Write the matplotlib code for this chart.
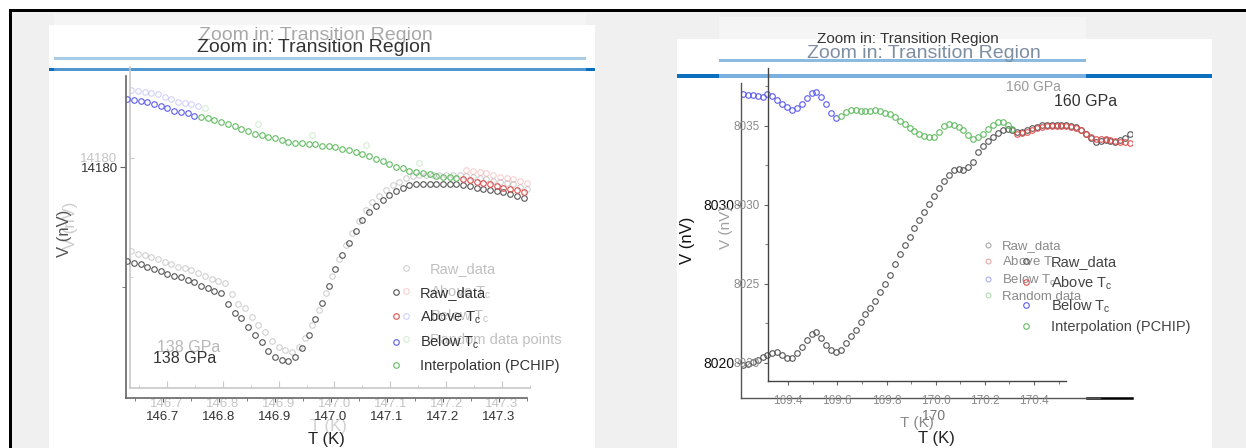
import numpy as np
import matplotlib
matplotlib.use("Agg")
import matplotlib.pyplot as plt
from matplotlib.patches import Rectangle
from matplotlib.lines import Line2D
from matplotlib.ticker import MultipleLocator, FixedLocator, FormatStrFormatter

plt.rcParams['font.family'] = ['Liberation Sans', 'DejaVu Sans']
plt.rcParams['mathtext.default'] = 'regular'

W, H = 1246, 448
NARROW = ['Liberation Sans Narrow', 'Liberation Sans', 'DejaVu Sans']

# --- 138 GPa panel (left) ---
t_138 = [146.636, 146.648, 146.660, 146.672, 146.684, 146.696, 146.708, 146.720, 146.732, 146.744,
         146.756, 146.768, 146.780, 146.792, 146.804, 146.816, 146.828, 146.840, 146.852, 146.864,
         146.876, 146.888, 146.900, 146.912, 146.924, 146.936, 146.948, 146.960, 146.972, 146.984,
         146.996, 147.008, 147.020, 147.032, 147.044, 147.056, 147.068, 147.080, 147.092, 147.104,
         147.116, 147.128, 147.140, 147.152, 147.164, 147.176, 147.188, 147.200, 147.212, 147.224,
         147.236, 147.248, 147.260, 147.272, 147.284, 147.296, 147.308, 147.320, 147.332, 147.344]
raw_138 = [14179.22, 14179.20, 14179.19, 14179.17, 14179.15, 14179.13, 14179.11, 14179.09, 14179.08, 14179.06,
           14179.04, 14179.01, 14178.99, 14178.97, 14178.95, 14178.86, 14178.78, 14178.74, 14178.67, 14178.60,
           14178.54, 14178.47, 14178.42, 14178.39, 14178.38, 14178.42, 14178.49, 14178.60, 14178.73, 14178.87,
           14179.01, 14179.15, 14179.27, 14179.37, 14179.47, 14179.56, 14179.63, 14179.68, 14179.73, 14179.77,
           14179.80, 14179.83, 14179.85, 14179.86, 14179.86, 14179.86, 14179.86, 14179.86, 14179.86, 14179.86,
           14179.85, 14179.84, 14179.83, 14179.82, 14179.81, 14179.80, 14179.79, 14179.78, 14179.76, 14179.74]
fit_138 = [14180.57, 14180.56, 14180.55, 14180.54, 14180.53, 14180.51, 14180.49, 14180.47, 14180.46, 14180.45,
           14180.43, 14180.42, 14180.41, 14180.39, 14180.38, 14180.36, 14180.34, 14180.32, 14180.30, 14180.28,
           14180.27, 14180.25, 14180.24, 14180.23, 14180.21, 14180.20, 14180.20, 14180.19, 14180.19, 14180.18,
           14180.18, 14180.17, 14180.15, 14180.14, 14180.13, 14180.11, 14180.09, 14180.07, 14180.05, 14180.03,
           14180.00, 14179.99, 14179.97, 14179.96, 14179.95, 14179.94, 14179.93, 14179.92, 14179.92, 14179.91,
           14179.90, 14179.89, 14179.88, 14179.87, 14179.86, 14179.84, 14179.83, 14179.82, 14179.81, 14179.79]
tc_138 = (146.76, 147.23)

# --- 160 GPa panel (right) ---
t_160 = [169.22, 169.24, 169.26, 169.28, 169.30, 169.32, 169.34, 169.36, 169.38, 169.40,
         169.42, 169.44, 169.46, 169.48, 169.50, 169.52, 169.54, 169.56, 169.58, 169.60,
         169.62, 169.64, 169.66, 169.68, 169.70, 169.72, 169.74, 169.76, 169.78, 169.80,
         169.82, 169.84, 169.86, 169.88, 169.90, 169.92, 169.94, 169.96, 169.98, 170.00,
         170.02, 170.04, 170.06, 170.08, 170.10, 170.12, 170.14, 170.16, 170.18, 170.20,
         170.22, 170.24, 170.26, 170.28, 170.30, 170.32, 170.34, 170.36, 170.38, 170.40,
         170.42, 170.44, 170.46, 170.48, 170.50, 170.52, 170.54, 170.56, 170.58, 170.60,
         170.62, 170.64, 170.66, 170.68, 170.70, 170.72, 170.74, 170.76, 170.78, 170.80]
raw_160 = [8019.89, 8019.96, 8020.04, 8020.18, 8020.35, 8020.50, 8020.64, 8020.70, 8020.48, 8020.34,
           8020.31, 8020.60, 8021.00, 8021.48, 8021.80, 8021.95, 8021.58, 8021.15, 8020.85, 8020.68,
           8020.85, 8021.27, 8021.70, 8022.09, 8022.60, 8023.08, 8023.47, 8023.95, 8024.49, 8024.99,
           8025.57, 8026.25, 8026.90, 8027.49, 8028.00, 8028.51, 8029.02, 8029.55, 8030.07, 8030.58,
           8031.06, 8031.51, 8031.90, 8032.19, 8032.30, 8032.22, 8032.40, 8032.75, 8033.33, 8033.72,
           8034.04, 8034.30, 8034.53, 8034.74, 8034.82, 8034.72, 8034.59, 8034.62, 8034.74, 8034.86,
           8034.95, 8035.04, 8035.06, 8035.06, 8035.06, 8035.05, 8035.03, 8035.00, 8034.91, 8034.76,
           8034.50, 8034.22, 8034.00, 8034.02, 8034.11, 8034.06, 8034.01, 8034.10, 8034.27, 8034.50]
fit_160 = [8037.00, 8036.98, 8036.95, 8036.88, 8036.84, 8037.03, 8036.90, 8036.67, 8036.40, 8036.19,
           8036.01, 8036.14, 8036.42, 8036.78, 8037.10, 8037.14, 8036.82, 8036.40, 8035.85, 8035.48,
           8035.62, 8035.88, 8036.02, 8036.00, 8035.96, 8035.95, 8035.97, 8035.98, 8035.93, 8035.82,
           8035.73, 8035.55, 8035.33, 8035.12, 8034.90, 8034.68, 8034.50, 8034.35, 8034.30, 8034.30,
           8034.62, 8035.02, 8035.15, 8035.08, 8034.96, 8034.74, 8034.45, 8034.18, 8034.30, 8034.52,
           8034.80, 8035.05, 8035.22, 8035.25, 8035.08, 8034.78, 8034.52, 8034.58, 8034.64, 8034.76,
           8034.87, 8034.95, 8034.98, 8035.00, 8035.00, 8035.00, 8034.99, 8034.96, 8034.90, 8034.72,
           8034.50, 8034.29, 8034.20, 8034.16, 8034.16, 8034.12, 8034.05, 8034.00, 8033.96, 8033.91]
tc_160 = (169.61, 170.33)

title = "Zoom in: Transition Region"
labels_new = ["Raw_data", "Above $T_c$", "Below $T_c$", "Interpolation (PCHIP)"]
labels_old_138 = ["Raw_data", "Above $T_c$", "Below $T_c$", "Random data points"]
labels_old_160 = ["Raw_data", "Above $T_c$", "Below $T_c$", "Random data"]

colors = {'raw': '#555555', 'above': '#e05050', 'below': '#5c5cee', 'mid': '#62bb62'}


def box(x0, y0, x1, y1):
    # pixel box, top-left origin -> figure fraction
    return [x0 / W, 1 - y1 / H, (x1 - x0) / W, (y1 - y0) / H]


def rect(fig, x0, y0, x1, y1, color, z=-10):
    fig.add_artist(Rectangle((x0 / W, 1 - y1 / H), (x1 - x0) / W, (y1 - y0) / H,
                             transform=fig.transFigure, color=color, lw=0, zorder=z))


def ftext(fig, x, y, s, **kw):
    fig.text(x / W, 1 - y / H, s, ha='center', va='center', **kw)


def style(ax, color, lw=1.0):
    ax.patch.set_visible(False)
    ax.spines['top'].set_visible(False)
    ax.spines['right'].set_visible(False)
    for s in ['left', 'bottom']:
        ax.spines[s].set_color(color)
        ax.spines[s].set_linewidth(lw)


def split(t, v, tc):
    t = np.array(t)
    v = np.array(v)
    below = t < tc[0]
    above = t >= tc[1]
    mid = ~below & ~above
    return (t[below], v[below]), (t[mid], v[mid]), (t[above], v[above])


def draw_points(ax, t, raw, fit, tc, alpha=1.0, sparse=1):
    kw = dict(ls='none', marker='o', mfc='none', ms=4, mew=0.8, alpha=alpha)
    (tb, vb), (tm, vm), (ta, va) = split(t, fit, tc)
    h_raw, = ax.plot(t, raw, mec=colors['raw'], **kw)
    h_above, = ax.plot(ta, va, mec=colors['above'], **kw)
    h_below, = ax.plot(tb, vb, mec=colors['below'], **kw)
    h_mid, = ax.plot(tm[::sparse], vm[::sparse], mec=colors['mid'], **kw)
    return [h_raw, h_above, h_below, h_mid]


def legend_at(fig, handles, labels, x, y, size, color, pad=1.27, spacing=0.45, family=None):
    prop = {'size': size}
    if family:
        prop['family'] = family
    fig.legend(handles, labels, loc='upper left', bbox_to_anchor=(x / W, 1 - y / H),
               frameon=False, borderpad=0, borderaxespad=0, handlelength=0.8,
               handletextpad=pad, labelspacing=spacing, prop=prop, labelcolor=color)


fig = plt.figure(figsize=(W / 100, H / 100), dpi=100)
fig.patch.set_facecolor('white')

# page background and cards
rect(fig, 12, 12, W, H, '#f0f0f0', -20)
rect(fig, 9, 9, W, 12, 'black', -5)
rect(fig, 9, 9, 12, H, 'black', -5)
rect(fig, 54, 14, 586, 25, '#f5f5f5', -15)
rect(fig, 49, 25, 595, H, 'white', -15)
rect(fig, 719, 17, 1086, 39, '#f5f5f5', -15)
rect(fig, 677, 39, 1212, H, 'white', -15)

# blue header lines
rect(fig, 54, 57, 586, 60, '#a9cce6', -8)
rect(fig, 49, 68, 595, 71, '#0a6cbc', -8)
rect(fig, 54, 68, 586, 71, '#4f96d2', -7)
rect(fig, 719, 59, 1086, 62, '#8dbbe0', -8)
rect(fig, 677, 74, 1212, 78, '#0b6fbe', -8)
rect(fig, 719, 74, 1086, 78, '#79b0df', -7)

# ---------- left panel: faded copy underneath ----------
axg = fig.add_axes(box(130, 67, 530, 388))
style(axg, '#c8c8c8', 1.2)
axg.set_xlim(146.634, 147.350)
axg.set_ylim(14178.075, 14180.76)
old_138 = draw_points(axg, t_138, raw_138, fit_138, tc_138, alpha=0.28, sparse=8)
axg.xaxis.set_major_locator(MultipleLocator(0.1))
axg.xaxis.set_minor_locator(MultipleLocator(0.05))
axg.yaxis.set_major_locator(FixedLocator([14180]))
axg.yaxis.set_minor_locator(FixedLocator([14179]))
axg.tick_params(which='both', direction='in', color='#c8c8c8', labelcolor='#c4c4c4', labelsize=9.5)
axg.tick_params(axis='x', which='major', length=5, pad=7)
axg.tick_params(axis='x', which='minor', length=2)
axg.tick_params(axis='y', length=3, pad=9)
axg.set_xlabel("T (K)", fontsize=12, color='#d0d0d0')
axg.xaxis.set_label_coords(0.495, -0.097)
axg.set_ylabel("V (nV)", fontsize=12, color='#cccccc')
axg.yaxis.set_label_coords(-0.13, 0.508)

# ---------- left panel: main ----------
ax1 = fig.add_axes(box(126, 76, 527, 398))
style(ax1, '#666666', 1.2)
ax1.set_xlim(146.634, 147.350)
ax1.set_ylim(14178.075, 14180.76)
new_138 = draw_points(ax1, t_138, raw_138, fit_138, tc_138)
ax1.xaxis.set_major_locator(MultipleLocator(0.1))
ax1.xaxis.set_minor_locator(MultipleLocator(0.05))
ax1.yaxis.set_major_locator(FixedLocator([14180]))
ax1.yaxis.set_minor_locator(FixedLocator([14179]))
ax1.tick_params(which='both', direction='out', color='#666666', labelcolor='#333333', labelsize=9.5)
ax1.tick_params(axis='x', which='major', length=3, pad=6.5)
ax1.tick_params(axis='x', which='minor', length=2)
ax1.tick_params(axis='y', which='major', length=4, pad=2)
ax1.tick_params(axis='y', which='minor', length=3)
ax1.set_xlabel("T (K)", fontsize=12, color='#222222')
ax1.xaxis.set_label_coords(0.499, -0.106)
ax1.set_ylabel("V (nV)", fontsize=12, color='#555555')
ax1.yaxis.set_label_coords(-0.135, 0.512)

ftext(fig, 316, 35, title, fontsize=14, color='#a8a8a8')
ftext(fig, 314, 47, title, fontsize=14, color='#333333')
ftext(fig, 189, 347, "138 GPa", fontsize=11.5, color='#b8b8b8')
ftext(fig, 185, 358, "138 GPa", fontsize=11.5, color='#333333')

legend_at(fig, old_138, labels_old_138, 400, 262, 10.5, '#c0c0c0', spacing=0.5)
legend_at(fig, new_138, labels_new, 390, 286, 10.5, '#333333', spacing=0.56)

# ---------- right panel: outer axes with the data ----------
ax2 = fig.add_axes(box(741, 83, 1132, 398))
style(ax2, '#555555', 1.0)
ax2.set_xlim(169.212, 170.808)
ax2.set_ylim(8017.78, 8037.72)
ax2.spines['bottom'].set_bounds(169.212, 170.677)
ax2.axhline(8017.78, 0.885, 1.0, color='black', lw=1.8, clip_on=False)
new_160 = draw_points(ax2, t_160, raw_160, fit_160, tc_160)
ax2.yaxis.set_major_locator(FixedLocator([8020, 8030]))
ax2.xaxis.set_major_locator(FixedLocator([170]))
ax2.xaxis.set_major_formatter(FormatStrFormatter('%d'))
ax2.tick_params(axis='y', direction='out', length=3, pad=1.5, color='#555555',
                labelsize=10, labelcolor='#111111')
ax2.tick_params(axis='x', direction='out', length=0, pad=8, labelsize=10, labelcolor='#777777')
ax2.set_xlabel("T (K)", fontsize=12, color='#222222')
ax2.xaxis.set_label_coords(0.501, -0.105)
ax2.set_ylabel("V (nV)", fontsize=12, color='#111111')
ax2.yaxis.set_label_coords(-0.118, 0.502)

# ---------- right panel: inner axes (older layout) ----------
ax3 = fig.add_axes(box(768, 68, 1066, 381))
style(ax3, '#444444', 1.0)
ax3.set_xlim(169.318, 170.53)
ax3.set_ylim(8018.86, 8038.67)
ax3.xaxis.set_major_locator(MultipleLocator(0.2))
ax3.xaxis.set_minor_locator(MultipleLocator(0.1))
ax3.xaxis.set_major_formatter(FormatStrFormatter('%.1f'))
ax3.yaxis.set_major_locator(MultipleLocator(5))
ax3.yaxis.set_minor_locator(MultipleLocator(2.5))
ax3.tick_params(which='both', direction='out', color='#666666', labelcolor='#8a8a8a', labelsize=8.5)
ax3.tick_params(which='major', length=3)
ax3.tick_params(which='minor', length=2)
ax3.tick_params(axis='x', pad=7)
ax3.tick_params(axis='y', pad=3)
for lab in ax3.get_xticklabels() + ax3.get_yticklabels():
    lab.set_family(NARROW)
ax3.set_xlabel("T (K)", fontsize=11, color='#8a8a8a', family=NARROW)
ax3.xaxis.set_label_coords(0.5, -0.112)
ax3.set_ylabel("V (nV)", fontsize=11, color='#a0a0a0', family=NARROW)
ax3.yaxis.set_label_coords(-0.117, 0.492)

old_160 = [Line2D([], [], ls='none', marker='o', mfc='none', ms=3.5, mew=0.8, alpha=0.5, mec=colors[k])
           for k in ['raw', 'above', 'below', 'mid']]

ftext(fig, 908, 39, title, fontsize=11, color='#333333', family=NARROW)
ftext(fig, 924, 54, title, fontsize=14, color='#7d8ea3')
ftext(fig, 1033, 87, "160 GPa", fontsize=10, color='#999999', family=NARROW)
ftext(fig, 1086, 102, "160 GPa", fontsize=11.5, color='#333333')

legend_at(fig, old_160, labels_old_160, 983, 240, 9.5, '#8a8a8a', pad=0.66, spacing=0.2, family=NARROW)
legend_at(fig, new_160, labels_new, 1020, 255, 10.5, '#444444', pad=1.31, spacing=0.37)

fig.savefig("out.png", dpi=100)
